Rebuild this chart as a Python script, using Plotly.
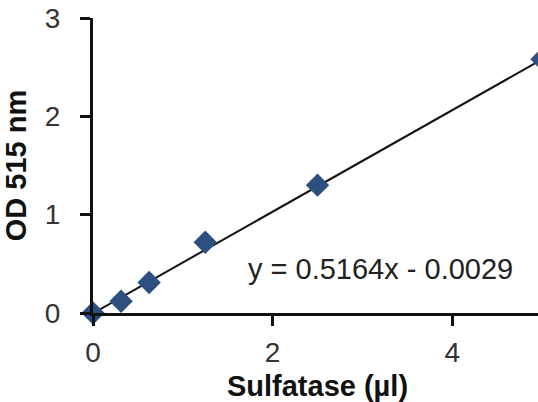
import plotly.graph_objects as go

# Data
sulfatase_ul = [0, 0.3125, 0.625, 1.25, 2.5, 5]
od_515 = [0.0, 0.12, 0.31, 0.72, 1.30, 2.58]
slope = 0.5164
intercept = -0.0029
fit_x = [0, 5]
fit_y = [slope * v + intercept for v in fit_x]
x_ticks = [0, 2, 4]
y_ticks = [0, 1, 2, 3]

font_family = "Liberation Sans, Arial, sans-serif"

fig = go.Figure()
fig.add_trace(go.Scatter(
    x=fit_x, y=fit_y, mode="lines",
    line=dict(color="#111111", width=2), showlegend=False, cliponaxis=False,
))
fig.add_trace(go.Scatter(
    x=sulfatase_ul, y=od_515, mode="markers",
    marker=dict(symbol="diamond", size=18, color="#2d4f80"),
    showlegend=False, cliponaxis=False,
))

fig.add_annotation(
    x=3.2, y=0.45, text="y = 0.5164x - 0.0029", showarrow=False,
    font=dict(family=font_family, size=29, color="#222222"),
    xanchor="center", yanchor="middle",
)

fig.update_layout(
    width=542, height=402,
    margin=dict(l=93, r=0, t=18, b=89),
    paper_bgcolor="white", plot_bgcolor="white",
    font=dict(family=font_family, color="#333333"),
    xaxis=dict(
        range=[0, 5.0], tickvals=x_ticks, ticktext=[str(v) for v in x_ticks],
        showgrid=False, zeroline=False, showline=True, linecolor="#111111", linewidth=3,
        ticks="outside", ticklen=10, tickwidth=3, tickcolor="#111111",
        tickfont=dict(size=28, color="#333333"), ticklabelstandoff=2,
        ticklabeloverflow="allow", automargin=False,
        title=dict(text="<b>Sulfatase (µl)</b>", font=dict(size=29, color="#111111"), standoff=12),
    ),
    yaxis=dict(
        range=[0, 3], tickvals=y_ticks, ticktext=[str(v) for v in y_ticks],
        showgrid=False, zeroline=False, showline=True, linecolor="#111111", linewidth=3,
        ticks="outside", ticklen=10, tickwidth=3, tickcolor="#111111",
        tickfont=dict(size=28, color="#333333"), ticklabelstandoff=14,
        ticklabeloverflow="allow", automargin=False,
        title=dict(text="<b>OD 515 nm</b>", font=dict(size=29, color="#111111"), standoff=20),
    ),
)

fig.write_html(
    "out.html",
    config={"displayModeBar": False},
    post_script="document.body.style.margin='0';document.body.style.overflow='hidden';",
)
